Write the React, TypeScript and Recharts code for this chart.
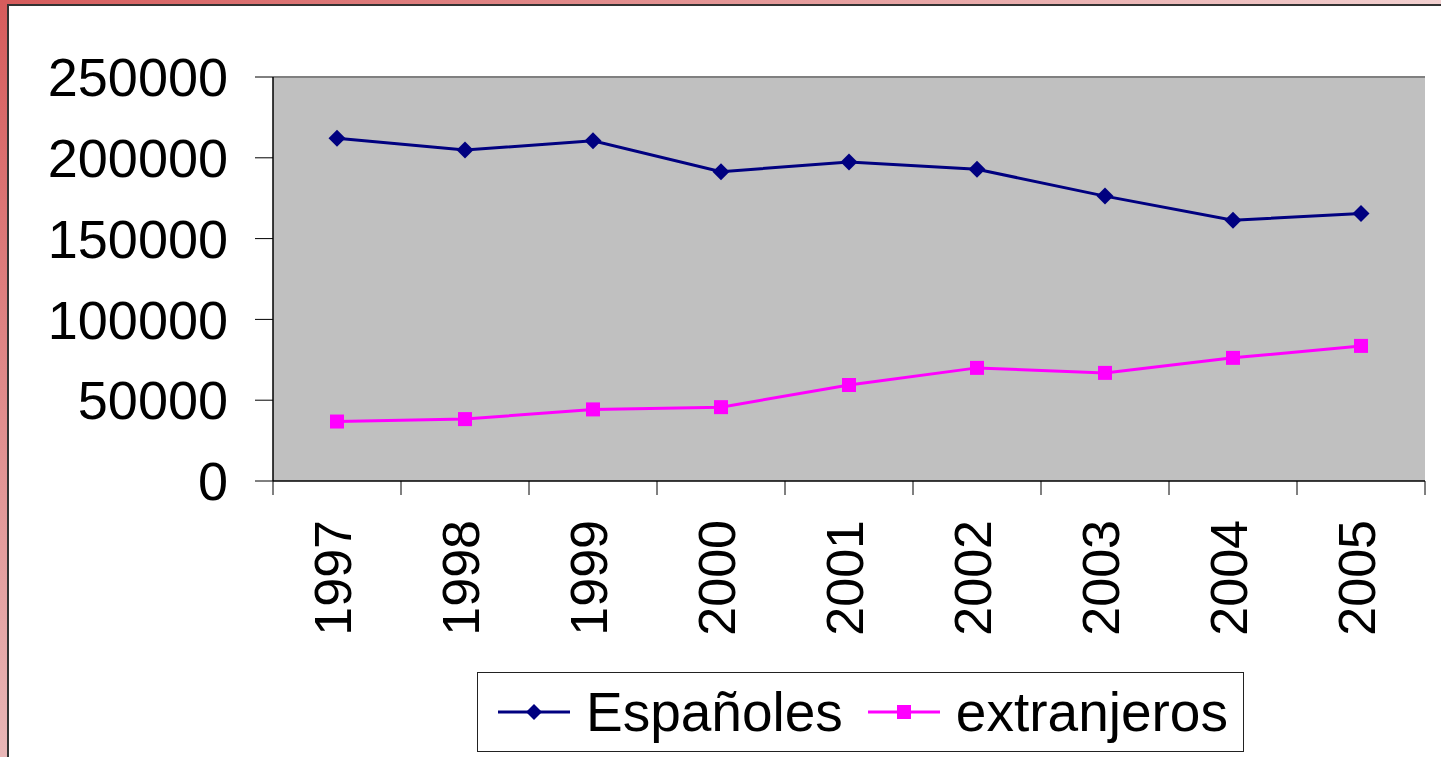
import { LineChart, Line, XAxis, YAxis, CartesianGrid, Legend, ReferenceLine } from 'recharts'

const years = ['1997', '1998', '1999', '2000', '2001', '2002', '2003', '2004', '2005']
const espanoles = [212100, 204800, 210600, 191400, 197400, 192900, 176300, 161400, 165500]
const extranjeros = [36800, 38300, 44300, 45700, 59400, 70000, 66900, 76200, 83600]
const yTicks = [0, 50000, 100000, 150000, 200000, 250000]

const data = years.map((year, i) => ({ year, espanoles: espanoles[i], extranjeros: extranjeros[i] }))

const FONT = '"Liberation Sans", Arial, sans-serif'
const NAVY = '#000080'
const PINK = '#FF00FF'

const diamond = (cx: number, cy: number, size: number, key?: any) => (
  <polygon key={key} points={`${cx},${cy - size} ${cx + size},${cy} ${cx},${cy + size} ${cx - size},${cy}`} fill={NAVY} />
)

const square = (cx: number, cy: number, size: number, key?: any) => (
  <rect key={key} x={cx - size} y={cy - size} width={size * 2} height={size * 2} fill={PINK} />
)

// ticks sit on the category edges, labels rotated like the original
const YearTick = (props: any) => {
  const { x, y, payload, index } = props
  const half = 64
  const top = y - 39
  return (
    <g>
      <line x1={x - half} y1={top} x2={x - half} y2={top + 14} stroke="#000" />
      {index === years.length - 1 && <line x1={x + half} y1={top} x2={x + half} y2={top + 14} stroke="#000" />}
      <text
        x={x}
        y={y}
        transform={`rotate(-90, ${x}, ${y})`}
        textAnchor="end"
        dy="0.26em"
        fontSize={52}
        fontFamily={FONT}
        fill="#000"
      >
        {payload.value}
      </text>
    </g>
  )
}

const LegendBox = ({ payload }: any) => (
  <div
    style={{
      width: 767,
      height: 80,
      boxSizing: 'border-box',
      border: '1px solid #222',
      background: '#fff',
      display: 'flex',
      alignItems: 'center',
      paddingLeft: 20,
      fontFamily: FONT,
      fontSize: 55,
      color: '#000',
    }}
  >
    {(payload || []).map((p: any, i: number) => (
      <div key={p.value} style={{ display: 'flex', alignItems: 'center', marginRight: i === 0 ? 25 : 0 }}>
        <svg width={72} height={20} style={{ marginRight: 16 }}>
          <line x1={0} y1={10} x2={72} y2={10} stroke={p.color} strokeWidth={3} />
          {p.dataKey === 'espanoles' ? diamond(36, 10, 8) : square(36, 10, 7)}
        </svg>
        <span style={{ lineHeight: 1 }}>{p.value}</span>
      </div>
    ))}
  </div>
)

export default function App() {
  return (
    <div style={{ position: 'absolute', left: 0, top: 0, width: 1441, height: 757, overflow: 'hidden', background: '#fff' }}>
      <div style={{ position: 'absolute', left: 0, top: 0, width: 1441, height: 4, background: 'linear-gradient(to right, #d65c5c, #f2d0d0)' }} />
      <div style={{ position: 'absolute', left: 0, top: 4, width: 1441, height: 1.5, background: '#333' }} />
      <div style={{ position: 'absolute', left: 0, top: 0, width: 7, height: 757, background: 'linear-gradient(to bottom, #d65c5c, #e8b6b6)' }} />
      <div style={{ position: 'absolute', left: 7, top: 4, width: 1.5, height: 753, background: '#333' }} />

      <div style={{ position: 'absolute', left: 0, top: 0 }}>
        <LineChart width={1441} height={757} data={data} margin={{ top: 77, right: 16, left: 0, bottom: 76 }}>
          <CartesianGrid vertical={false} fill="#C0C0C0" fillOpacity={1} stroke="#000" strokeWidth={1} />
          <XAxis
            dataKey="year"
            scale="band"
            interval={0}
            height={200}
            tickSize={14}
            tickMargin={25}
            tickLine={false}
            axisLine={{ stroke: '#000' }}
            tick={<YearTick />}
          />
          <YAxis
            yAxisId="left"
            width={273}
            domain={[0, 250000]}
            ticks={yTicks}
            interval={0}
            tickSize={18}
            tickMargin={27}
            axisLine={{ stroke: '#000', strokeWidth: 1.5 }}
            tickLine={{ stroke: '#000' }}
            tick={{ fill: '#000', fontSize: 54, fontFamily: FONT }}
          />
          <YAxis
            yAxisId="right"
            orientation="right"
            width={0}
            domain={[0, 250000]}
            tick={false}
            tickLine={false}
            axisLine={{ stroke: '#808080', strokeWidth: 2 }}
          />
          <ReferenceLine yAxisId="left" y={250000} stroke="#808080" strokeWidth={2} />
          <Line
            yAxisId="left"
            dataKey="espanoles"
            name="Españoles"
            stroke={NAVY}
            strokeWidth={3}
            dot={(p: any) => diamond(p.cx, p.cy, 8.5, p.index)}
            activeDot={false}
            isAnimationActive={false}
          />
          <Line
            yAxisId="left"
            dataKey="extranjeros"
            name="extranjeros"
            stroke={PINK}
            strokeWidth={3}
            dot={(p: any) => square(p.cx, p.cy, 7, p.index)}
            activeDot={false}
            isAnimationActive={false}
          />
          <Legend
            layout="horizontal"
            verticalAlign="middle"
            align="center"
            content={<LegendBox />}
            wrapperStyle={{ position: 'absolute', left: 477, top: 672, width: 767, height: 80 }}
          />
        </LineChart>
      </div>
    </div>
  )
}
